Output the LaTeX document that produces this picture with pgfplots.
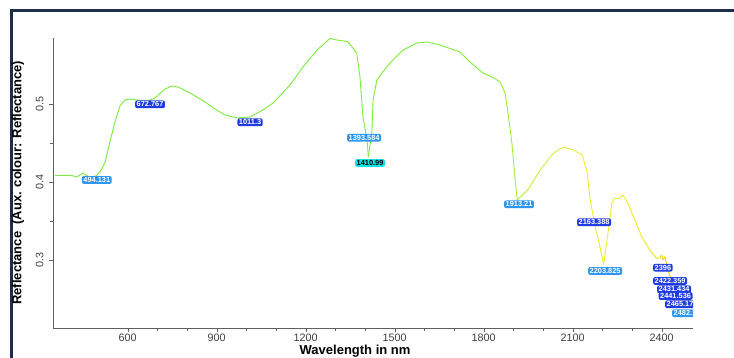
\documentclass[border=0pt]{standalone}
\usepackage{pgfplots}
\pgfplotsset{compat=1.18}
\usepackage{pgfplotstable}
\usepackage{fontspec}
\setmainfont{Liberation Sans}

\definecolor{frame}{RGB}{30,45,75}
\definecolor{lblue}{RGB}{45,150,240}
\definecolor{dblue}{RGB}{30,60,225}
\definecolor{lcyan}{RGB}{20,225,225}
\definecolor{axisgray}{RGB}{95,95,95}

\pgfplotsset{colormap={spec}{rgb255(0cm)=(120,235,60) rgb255(68cm)=(125,238,55) rgb255(76cm)=(200,242,60) rgb255(83cm)=(235,240,45) rgb255(93cm)=(242,235,30) rgb255(96cm)=(245,205,0) rgb255(100cm)=(240,190,0)}}

\pgfplotstableread{
nm val
355 0.409
405 0.409
429 0.4064
449 0.4115
470 0.4064
493 0.4077
507 0.4128
524 0.4256
540 0.4513
557 0.4769
574 0.4974
591 0.5051
608 0.5064
635 0.5051
665 0.5038
692 0.5077
726 0.5192
749 0.5231
770 0.5218
810 0.5141
861 0.5026
894 0.4936
928 0.4859
968 0.4821
1012 0.4833
1056 0.4923
1090 0.5013
1147 0.5244
1191 0.5474
1238 0.5692
1282 0.5840
1305 0.5820
1342 0.5800
1372 0.5654
1383 0.5346
1393 0.4833
1407 0.4538
1411 0.4321
1423 0.4628
1427 0.5051
1440 0.5308
1460 0.5410
1484 0.5526
1528 0.5692
1575 0.5782
1609 0.5795
1653 0.5756
1720 0.5667
1754 0.5538
1798 0.5397
1821 0.5360
1840 0.5320
1855 0.5282
1872 0.5141
1882 0.4885
1895 0.4500
1905 0.4064
1913 0.3769
1948 0.3897
1991 0.4154
2035 0.4372
2069 0.4449
2102 0.4410
2132 0.4346
2149 0.4115
2159 0.3769
2176 0.3423
2192 0.3167
2204 0.2945
2219 0.3346
2232 0.3731
2242 0.3795
2253 0.3782
2269 0.3833
2286 0.3731
2309 0.3513
2333 0.3295
2360 0.3128
2383 0.3022
2394 0.3026
2400 0.3064
2405 0.3000
2411 0.3042
2417 0.2936
2422 0.2850
2434 0.2744
2445 0.2679
2456 0.2615
2461 0.2658
2473 0.2551
2484 0.2594
2489 0.2465
2495 0.2529
2499 0.2385
2503 0.2423
}\spectrum

\begin{document}
\begin{tikzpicture}[x=1pt,y=1pt]
\useasboundingbox (0,0) rectangle (734,358);
\fill[white] (0,0) rectangle (734,358);
\draw[frame, line width=3pt] (11,-5) -- (11,347) -- (740,347);
\begin{axis}[
  at={(53pt,30pt)}, anchor=south west,
  scale only axis, width=640pt, height=290.3pt,
  xmin=348.2, xmax=2505.5, ymin=0.2128, ymax=0.585,
  axis x line*=bottom, axis y line*=left,
  axis line style={axisgray, -},
  xtick={600,900,...,2400}, minor x tick num=2,
  ytick={0.3,0.4,0.5}, minor y tick num=1,
  tick align=outside, major tick length=4pt, minor tick length=3pt,
  tick style={axisgray},
  /pgf/number format/1000 sep={},
  /pgf/number format/assume math mode=true,
  ticklabel style={font=\fontsize{10.8}{12}\selectfont, text=black!75},
  xticklabel style={yshift=1.5pt},
  yticklabel style={rotate=90, anchor=south, yshift=2pt},
  xlabel={Wavelength in nm},
  ylabel={Reflectance\ \ (Aux. colour: Reflectance)},
  label style={font=\bfseries},
  xlabel style={font=\fontsize{13}{15}\selectfont\bfseries, at={(axis description cs:0.472,0)}, anchor=base, yshift=-27pt},
  ylabel style={font=\fontsize{13}{15}\selectfont\bfseries, at={(axis description cs:-0.0547,0.5)}, anchor=center},
  colormap name=spec,
  point meta min=348, point meta max=2505,
  clip=false,
]
\addplot[mesh, point meta=x, line width=0.9pt, shader=flat] table[x=nm,y=val]{\spectrum};
\coordinate (L1) at (axis cs:445.0,0.4026);
\coordinate (L2) at (axis cs:624.6,0.4996);
\coordinate (L3) at (axis cs:969.4,0.4765);
\coordinate (L4) at (axis cs:1339.1,0.4568);
\coordinate (L5) at (axis cs:1366.1,0.4244);
\coordinate (L6) at (axis cs:1868.4,0.3714);
\coordinate (L7) at (axis cs:2114.4,0.3483);
\coordinate (L8) at (axis cs:2151.5,0.2859);
\coordinate (L9) at (axis cs:2370.6,0.2901);
\coordinate (L10) at (axis cs:2370.6,0.2731);
\coordinate (L11) at (axis cs:2384.0,0.2624);
\coordinate (L12) at (axis cs:2389.0,0.2538);
\coordinate (L13) at (axis cs:2411.0,0.2432);
\coordinate (L14) at (axis cs:2434.6,0.2317);
\end{axis}
\begin{scope}[lab/.style={rounded corners=2pt, inner xsep=1.5pt, inner ysep=1.3pt, text=white, anchor=west, font=\fontsize{7.4}{8}\selectfont\bfseries}]
\clip (0,0) rectangle (693,358);
\node[lab, fill=lblue] at (L1) {494.131};
\node[lab, fill=dblue] at (L2) {672.767};
\node[lab, fill=dblue] at (L3) {1011.3};
\node[lab, fill=lblue] at (L4) {1393.584};
\node[lab, fill=lcyan, text=black] at (L5) {1410.99};
\node[lab, fill=lblue] at (L6) {1913.21};
\node[lab, fill=dblue] at (L7) {2163.388};
\node[lab, fill=lblue] at (L8) {2203.825};
\node[lab, fill=dblue] at (L9) {2396};
\node[lab, fill=dblue] at (L10) {2422.359};
\node[lab, fill=dblue] at (L11) {2431.434};
\node[lab, fill=dblue] at (L12) {2441.536};
\node[lab, fill=dblue] at (L13) {2465.171};
\node[lab, fill=lblue] at (L14) {2482.141};
\end{scope}
\end{tikzpicture}
\end{document}
